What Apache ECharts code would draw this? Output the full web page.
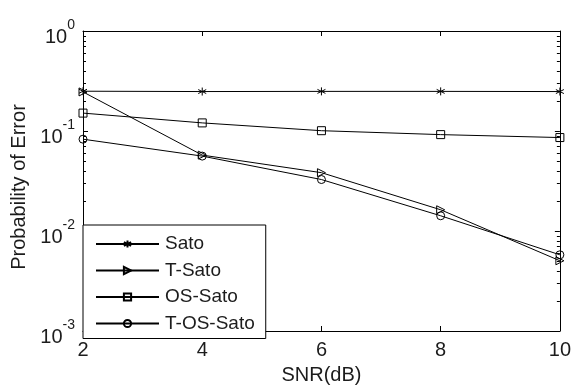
<!DOCTYPE html>
<html>
<head>
<meta charset="utf-8">
<script src="https://cdn.jsdelivr.net/npm/echarts@6/dist/echarts.min.js"></script>
<style>
  html, body { margin: 0; padding: 0; background: #fff; }
  #chart { width: 574px; height: 390px; }
</style>
</head>
<body>
<div id="chart"></div>
<script>
// SNR points (dB) and error probabilities per equalizer
const snr = [2, 4, 6, 8, 10];
const sato = [0.250, 0.248, 0.249, 0.249, 0.248];
const tSato = [0.246, 0.0574, 0.0383, 0.0163, 0.00504];
const osSato = [0.151, 0.1205, 0.1007, 0.092, 0.086];
const tOsSato = [0.0828, 0.0561, 0.0327, 0.0142, 0.00578];

const seriesNames = ['Sato', 'T-Sato', 'OS-Sato', 'T-OS-Sato'];
const seriesValues = [sato, tSato, osSato, tOsSato];
const markers = [
  'path://M0,-5L0,5M-4.33,-2.5L4.33,2.5M-4.33,2.5L4.33,-2.5',
  'path://M0,0L10,5L0,10Z',
  'rect',
  'circle'
];

const FONT = '"Liberation Sans", Arial, sans-serif';
const INK = '#1c1c1c';

const chart = echarts.init(document.getElementById('chart'), null, { renderer: 'canvas' });

function pairs(vals) {
  return snr.map((x, i) => [x, vals[i]]);
}

const series = seriesNames.map((name, i) => ({
  name: name,
  type: 'line',
  data: pairs(seriesValues[i]),
  symbol: markers[i],
  symbolSize: 8,
  showAllSymbol: true,
  lineStyle: { color: '#000', width: 1 },
  itemStyle: { color: 'rgba(255,255,255,0)', borderColor: '#000', borderWidth: 1 },
  emphasis: { disabled: true },
  animation: false,
  z: 3
}));

const axisBase = {
  axisLine: { show: true, onZero: false, lineStyle: { color: '#000', width: 1 } },
  axisTick: { show: true, inside: true, length: 5, lineStyle: { color: '#000', width: 1 } },
  splitLine: { show: false }
};

const option = {
  backgroundColor: '#fff',
  animation: false,
  grid: { left: 83, right: 12, top: 31, bottom: 52, containLabel: false },
  legend: {
    orient: 'vertical',
    left: 83,
    top: 225,
    width: 185,
    padding: [9, 11, 5, 12],
    itemGap: 6.5,
    itemWidth: 63,
    itemHeight: 9,
    backgroundColor: '#fff',
    borderColor: '#000',
    borderWidth: 1,
    borderRadius: 0,
    textStyle: { fontFamily: FONT, fontSize: 19, color: INK, lineHeight: 20, padding: [0, 0, 0, 1] },
    data: seriesNames
  },
  xAxis: [
    Object.assign({}, axisBase, {
      type: 'value', min: 2, max: 10, interval: 2, position: 'bottom',
      name: 'SNR(dB)', nameLocation: 'middle', nameGap: 34,
      nameTextStyle: { fontFamily: FONT, fontSize: 20, color: INK },
      axisLabel: { fontFamily: FONT, fontSize: 20, color: INK, margin: 9 }
    }),
    Object.assign({}, axisBase, {
      type: 'value', min: 2, max: 10, interval: 2, position: 'top',
      axisLabel: { show: false }
    })
  ],
  yAxis: [
    Object.assign({}, axisBase, {
      type: 'log', logBase: 10, min: 0.001, max: 1, position: 'left',
      name: 'Probability of Error', nameLocation: 'middle', nameGap: 54, nameRotate: 90,
      nameTextStyle: { fontFamily: FONT, fontSize: 20, color: INK, padding: [0, 12, 0, 0] },
      axisLabel: {
        margin: 8,
        formatter: function (v) {
          const e = Math.round(Math.log10(v));
          return '{b|10}{e|' + e + '}';
        },
        rich: {
          b: { fontFamily: FONT, fontSize: 20, color: INK, padding: [12, 0, 0, 0] },
          e: { fontFamily: FONT, fontSize: 14, color: INK, padding: [0, 0, 12, 0] }
        }
      }
    }),
    Object.assign({}, axisBase, {
      type: 'log', logBase: 10, min: 0.001, max: 1, position: 'right',
      axisLabel: { show: false }
    })
  ],
  series: series
};

chart.setOption(option);

// Minor log ticks (2..9 within each decade) on both vertical axes
function addMinorTicks() {
  const xl = chart.convertToPixel({ xAxisIndex: 0 }, 2);
  const xr = chart.convertToPixel({ xAxisIndex: 0 }, 10);
  const g = [];
  for (let k = -3; k < 0; k++) {
    for (let m = 2; m <= 9; m++) {
      const v = m * Math.pow(10, k);
      const y = Math.round(chart.convertToPixel({ yAxisIndex: 0 }, v)) + 0.5;
      g.push({ type: 'line', silent: true, shape: { x1: xl, y1: y, x2: xl + 3, y2: y },
        style: { stroke: '#000', lineWidth: 1 } });
      g.push({ type: 'line', silent: true, shape: { x1: xr, y1: y, x2: xr - 3, y2: y },
        style: { stroke: '#000', lineWidth: 1 } });
    }
  }
  chart.setOption({ graphic: g });
}
addMinorTicks();
</script>
</body>
</html>
